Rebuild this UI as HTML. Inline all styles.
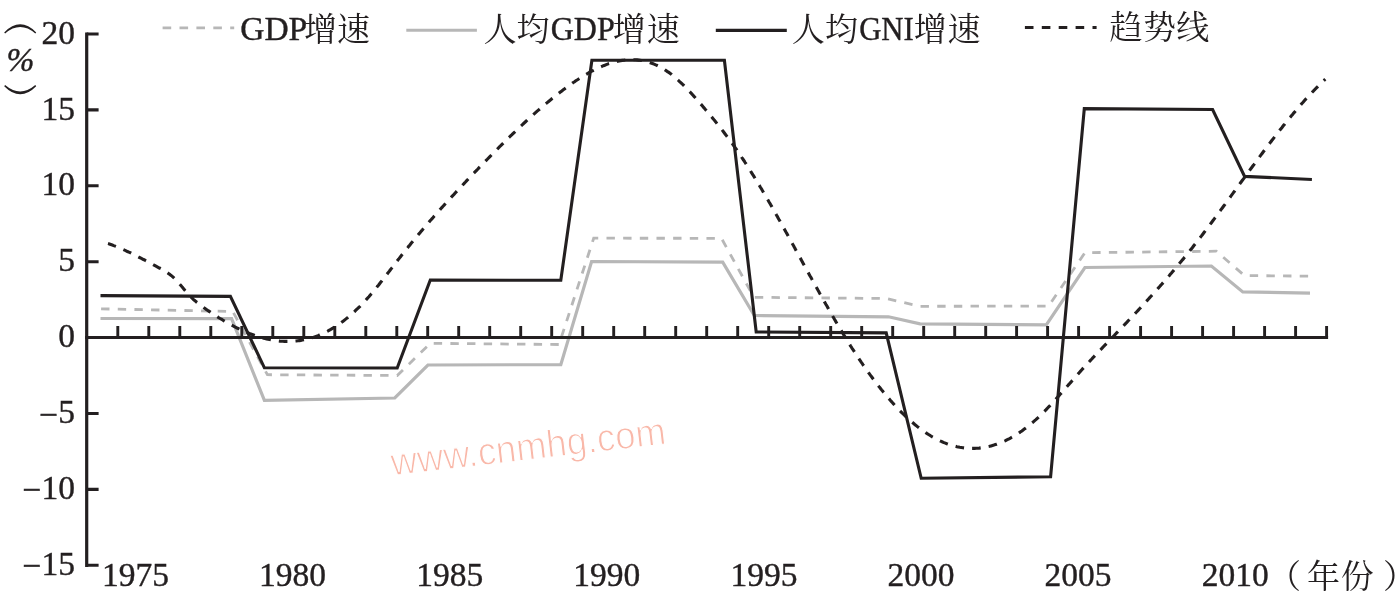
<!DOCTYPE html>
<html lang="zh-CN">
<head>
<meta charset="utf-8">
<title>GDP增速、人均GDP增速、人均GNI增速与趋势线（1975—2012年）</title>
<style>
html,body{margin:0;padding:0;background:#fff;}
body{width:1398px;height:598px;overflow:hidden;font-family:"Liberation Serif",serif;}
svg{display:block;will-change:transform;}
.t{font-family:"Liberation Serif",serif;font-size:33.5px;fill:#231f20;stroke:#231f20;stroke-width:0.4px;}
.c{font-family:"Liberation Serif","Noto Serif CJK SC",serif;font-size:33px;fill:#231f20;}
.wm{font-family:"Liberation Sans",sans-serif;font-size:38.5px;fill:#f9b8a9;stroke:#fff;stroke-width:1.1px;paint-order:fill stroke;}
</style>
</head>
<body>
<svg width="1398" height="598" viewBox="0 0 1398 598" role="img" aria-label="折线图：GDP增速、人均GDP增速、人均GNI增速、趋势线">
<rect width="1398" height="598" fill="#fff"/>
<text class="wm" transform="translate(392.3 475.6) rotate(-6.6)" textLength="276.5" lengthAdjust="spacingAndGlyphs">www.cnmhg.com</text>
<g fill="none" stroke="#b7b7b7" stroke-linejoin="miter">
<polyline stroke-width="3.2" points="100.5,318.5 231.6,318.7 264.4,400.4 394.8,398 427.9,365 560.8,364.6 591.6,261.5 722.7,262.1 754.3,315.5 888.5,316.8 920.1,323.8 1046.3,324.8 1084.9,267.5 1211.4,266 1242.8,291.9 1310,293.1"/>
<polyline stroke-width="2.8" stroke-dasharray="8.4 8.26" stroke-dashoffset="-0.6" points="100.5,308.8 232.8,311.5 267.4,374.7 397.2,375.5 430.3,343.3 559,344.5 593.7,238.2 721.5,238.3 753.9,297.3 886.2,298.5 920.1,306.3 1048.6,306.1 1084.9,252.7 1216.3,251.2 1244.4,275.5 1309,276.2"/>
</g>
<g fill="none" stroke="#231f20">
<path stroke-width="3.2" d="M86.7 32.4V566.9"/>
<path stroke-width="3.1" d="M85.1 337.5H1328.1"/>
<path stroke-width="3.1" d="M86.7 34H98.6M86.7 109.9H98.6M86.7 185.8H98.6M86.7 261.7H98.6M86.7 413.5H98.6M86.7 489.4H98.6M86.7 565.3H98.6"/>
<path stroke-width="2.9" d="M117.8 326V337.5M148.8 326V337.5M179.8 326V337.5M210.8 326V337.5M241.8 326V337.5M272.8 326V337.5M303.8 326V337.5M334.8 326V337.5M365.8 326V337.5M396.8 326V337.5M427.7 326V337.5M458.7 326V337.5M489.7 326V337.5M520.7 326V337.5M551.7 326V337.5M582.7 326V337.5M613.7 326V337.5M644.7 326V337.5M675.7 326V337.5M706.7 326V337.5M737.7 326V337.5M768.7 326V337.5M799.7 326V337.5M830.7 326V337.5M861.7 326V337.5M892.7 326V337.5M923.7 326V337.5M954.7 326V337.5M985.7 326V337.5M1016.6 326V337.5M1047.6 326V337.5M1078.6 326V337.5M1109.6 326V337.5M1140.6 326V337.5M1171.6 326V337.5M1202.6 326V337.5M1233.6 326V337.5M1264.6 326V337.5M1295.6 326V337.5M1326.6 326V337.5"/>
</g>
<g fill="none" stroke="#231f20" stroke-linejoin="miter">
<polyline stroke-width="3.1" stroke-dasharray="8.60 8.08" stroke-dashoffset="-16.52" points="108,243.6 109.4,244 110.8,244.5 112.3,245 113.7,245.6 115.1,246.1 116.5,246.6 117.8,247.2 119.2,247.8 120.6,248.4 122,249 123.4,249.6 124.7,250.2 126.1,250.8 127.4,251.5 128.8,252.1 130.2,252.7 131.5,253.4 132.8,254.1 134.2,254.7 135.5,255.4 136.9,256.1 138.2,256.8 139.5,257.5 140.9,258.1 142.2,258.8 143.5,259.5 144.9,260.2 146.2,260.9 147.5,261.6 148.8,262.3 150.2,263 151.5,263.7 152.8,264.4 154.1,265.2 155.5,265.9 156.8,266.6 158.1,267.3 159.4,268 160.8,268.7 162.1,269.4 163.4,270.1 164.7,270.9 165.9,271.7 167.2,272.5 168.4,273.4 169.6,274.3 170.8,275.2 172,276.1 173.1,277.1 174.2,278.1 175.3,279.2 176.3,280.3 177.3,281.4 178.3,282.5 179.3,283.6 180.3,284.8 181.3,285.9 182.2,287.1 183.2,288.2 184.2,289.4 185.1,290.5 186.1,291.6 187.1,292.8 188.1,293.9 189.1,295 190.1,296.1 191.1,297.2 192.2,298.2 193.3,299.3 194.4,300.3 195.6,301.2 196.7,302.2 197.9,303.1 199.1,304.1 200.2,305 201.4,305.9 202.6,306.8 203.9,307.7 205.1,308.5 206.3,309.4 207.5,310.3 208.8,311.1 210,311.9 211.3,312.8 212.5,313.6 213.8,314.4 215,315.3 216.3,316.1 217.6,316.9 218.8,317.7 220.1,318.5 221.4,319.2 222.7,320 224,320.8 225.2,321.5 226.5,322.3 227.9,323 229.2,323.8 230.5,324.5 231.8,325.2 233.1,325.9 234.4,326.6 235.8,327.3 237.1,328 238.5,328.6 239.8,329.3 241.2,329.9 242.5,330.5 243.9,331.1 245.3,331.7 246.7,332.3 248.1,332.9 249.4,333.5 250.8,334 252.2,334.5 253.7,335 255.1,335.5 256.5,336 257.9,336.5 259.4,336.9 260.8,337.4 262.2,337.8 263.7,338.2 265.1,338.5 266.6,338.9 268.1,339.2 269.5,339.5 271,339.8 272.5,340.1 274,340.3 275.4,340.5 276.9,340.7 278.4,340.9 279.9,341.1 281.4,341.2 282.9,341.3 284.4,341.4 285.9,341.4 287.4,341.4 288.9,341.4 290.4,341.4 291.9,341.3 293.4,341.2 294.9,341.1 296.4,341 297.9,340.8 299.4,340.6 300.8,340.4 302.3,340.1 303.8,339.8 305.3,339.5 306.7,339.2 308.2,338.8 309.6,338.4 311.1,338 312.5,337.6 313.9,337.1 315.3,336.6 316.7,336.1 318.1,335.6 319.5,335 320.9,334.4 322.3,333.8 323.6,333.2 325,332.5 326.3,331.8 327.7,331.1 329,330.4 330.3,329.7 331.6,328.9 332.9,328.1 334.1,327.4 335.4,326.5 336.7,325.7 337.9,324.9 339.1,324 340.4,323.2 341.6,322.3 342.8,321.4 344,320.5 345.1,319.6 346.3,318.6 347.5,317.7 348.6,316.7 349.8,315.7 350.9,314.8 352,313.8 353.2,312.8 354.3,311.8 355.4,310.7 356.4,309.7 357.5,308.7 358.6,307.6 359.7,306.6 360.7,305.5 361.8,304.4 362.8,303.3 363.8,302.2 364.9,301.1 365.9,300 366.9,298.9 367.9,297.8 368.9,296.7 369.9,295.5 370.8,294.4 371.8,293.3 372.8,292.1 373.7,291 374.7,289.8 375.6,288.7 376.6,287.5 377.5,286.3 378.5,285.2 379.4,284 380.3,282.8 381.3,281.6 382.2,280.4 383.1,279.3 384,278.1 384.9,276.9 385.9,275.7 386.8,274.5 387.7,273.3 388.6,272.1 389.5,271 390.4,269.8 391.3,268.6 392.3,267.4 393.2,266.2 394.1,265 395,263.8 395.9,262.6 396.8,261.4 397.7,260.2 398.7,259.1 399.6,257.9 400.5,256.7 401.4,255.5 402.4,254.3 403.3,253.2 404.2,252 405.2,250.8 406.1,249.6 407,248.5 408,247.3 408.9,246.1 409.9,245 410.8,243.8 411.8,242.6 412.7,241.5 413.7,240.3 414.6,239.2 415.6,238 416.5,236.9 417.5,235.7 418.4,234.5 419.4,233.4 420.4,232.2 421.3,231.1 422.3,230 423.3,228.8 424.3,227.7 425.2,226.5 426.2,225.4 427.2,224.3 428.2,223.1 429.1,222 430.1,220.8 431.1,219.7 432.1,218.6 433.1,217.5 434.1,216.3 435.1,215.2 436.1,214.1 437.1,213 438,211.8 439,210.7 440,209.6 441,208.5 442,207.4 443,206.2 444.1,205.1 445.1,204 446.1,202.9 447.1,201.8 448.1,200.7 449.1,199.6 450.1,198.5 451.1,197.4 452.1,196.3 453.2,195.2 454.2,194.1 455.2,193 456.2,191.9 457.2,190.8 458.3,189.7 459.3,188.6 460.3,187.5 461.3,186.4 462.4,185.3 463.4,184.2 464.4,183.1 465.5,182 466.5,180.9 467.5,179.8 468.5,178.8 469.6,177.7 470.6,176.6 471.6,175.5 472.7,174.4 473.7,173.3 474.8,172.2 475.8,171.2 476.8,170.1 477.9,169 478.9,167.9 480,166.8 481,165.8 482,164.7 483.1,163.6 484.1,162.5 485.2,161.4 486.2,160.4 487.3,159.3 488.3,158.2 489.4,157.1 490.4,156.1 491.5,155 492.5,153.9 493.6,152.9 494.6,151.8 495.7,150.7 496.7,149.7 497.8,148.6 498.8,147.5 499.9,146.5 501,145.4 502,144.4 503.1,143.3 504.2,142.2 505.2,141.2 506.3,140.1 507.4,139.1 508.4,138 509.5,137 510.6,135.9 511.7,134.9 512.7,133.9 513.8,132.8 514.9,131.8 516,130.7 517.1,129.7 518.1,128.7 519.2,127.6 520.3,126.6 521.4,125.6 522.5,124.5 523.6,123.5 524.7,122.5 525.8,121.5 526.9,120.5 528,119.4 529.1,118.4 530.2,117.4 531.3,116.4 532.5,115.4 533.6,114.4 534.7,113.4 535.8,112.4 536.9,111.4 538.1,110.4 539.2,109.5 540.3,108.5 541.5,107.5 542.6,106.5 543.7,105.5 544.9,104.6 546,103.6 547.2,102.6 548.3,101.7 549.5,100.7 550.7,99.8 551.8,98.8 553,97.9 554.1,96.9 555.3,96 556.5,95.1 557.7,94.1 558.9,93.2 560,92.3 561.2,91.4 562.4,90.5 563.6,89.6 564.8,88.7 566,87.8 567.2,86.9 568.4,86 569.7,85.1 570.9,84.3 572.1,83.4 573.3,82.5 574.6,81.7 575.8,80.8 577.1,80 578.3,79.2 579.6,78.4 580.8,77.6 582.1,76.8 583.4,76 584.7,75.2 586,74.4 587.3,73.7 588.6,72.9 589.9,72.2 591.2,71.5 592.5,70.8 593.8,70.1 595.2,69.4 596.5,68.8 597.9,68.1 599.2,67.5 600.6,66.9 602,66.3 603.4,65.7 604.8,65.2 606.2,64.6 607.6,64.1 609,63.6 610.4,63.2 611.9,62.7 613.3,62.3 614.8,61.9 616.2,61.6 617.7,61.2 619.2,60.9 620.6,60.7 622.1,60.4 623.6,60.2 625.1,60 626.6,59.9 628.1,59.8 629.6,59.7 631.1,59.7 632.6,59.7 634.1,59.7 635.6,59.8 637.1,59.9 638.6,60.1 640,60.3 641.5,60.5 643,60.8 644.5,61.1 645.9,61.4 647.4,61.8 648.8,62.2 650.2,62.7 651.7,63.2 653.1,63.7 654.5,64.3 655.8,64.9 657.2,65.5 658.5,66.2 659.9,66.9 661.2,67.6 662.5,68.3 663.8,69.1 665,69.9 666.3,70.7 667.5,71.6 668.8,72.4 670,73.3 671.2,74.2 672.3,75.2 673.5,76.1 674.6,77.1 675.8,78 676.9,79 678,80 679.1,81.1 680.2,82.1 681.3,83.1 682.4,84.2 683.5,85.2 684.5,86.3 685.6,87.3 686.6,88.4 687.7,89.5 688.7,90.6 689.7,91.7 690.8,92.8 691.8,93.9 692.8,95 693.8,96.1 694.8,97.2 695.8,98.3 696.8,99.5 697.8,100.6 698.8,101.7 699.7,102.8 700.7,104 701.7,105.1 702.7,106.3 703.6,107.4 704.6,108.5 705.6,109.7 706.6,110.8 707.5,112 708.5,113.1 709.4,114.3 710.4,115.4 711.4,116.6 712.3,117.7 713.3,118.9 714.2,120.1 715.2,121.2 716.1,122.4 717,123.6 718,124.7 718.9,125.9 719.8,127.1 720.8,128.3 721.7,129.5 722.6,130.6 723.5,131.8 724.4,133 725.3,134.2 726.2,135.4 727.1,136.6 728,137.8 728.9,139 729.8,140.2 730.7,141.4 731.6,142.7 732.5,143.9 733.3,145.1 734.2,146.3 735.1,147.5 735.9,148.8 736.8,150 737.6,151.2 738.5,152.5 739.3,153.7 740.2,155 741,156.2 741.8,157.5 742.6,158.7 743.5,160 744.3,161.2 745.1,162.5 745.9,163.7 746.7,165 747.5,166.3 748.3,167.5 749.2,168.8 750,170.1 750.7,171.3 751.5,172.6 752.3,173.9 753.1,175.2 753.9,176.4 754.7,177.7 755.5,179 756.3,180.3 757,181.6 757.8,182.8 758.6,184.1 759.4,185.4 760.1,186.7 760.9,188 761.7,189.3 762.4,190.6 763.2,191.9 763.9,193.2 764.7,194.4 765.5,195.7 766.2,197 767,198.3 767.7,199.6 768.5,200.9 769.2,202.2 770,203.5 770.7,204.8 771.5,206.1 772.2,207.4 772.9,208.7 773.7,210 774.4,211.4 775.2,212.7 775.9,214 776.6,215.3 777.4,216.6 778.1,217.9 778.8,219.2 779.6,220.5 780.3,221.8 781,223.1 781.8,224.4 782.5,225.7 783.2,227.1 783.9,228.4 784.7,229.7 785.4,231 786.1,232.3 786.9,233.6 787.6,234.9 788.3,236.2 789,237.6 789.8,238.9 790.5,240.2 791.2,241.5 791.9,242.8 792.6,244.1 793.4,245.4 794.1,246.8 794.8,248.1 795.5,249.4 796.2,250.7 797,252 797.7,253.3 798.4,254.7 799.1,256 799.8,257.3 800.6,258.6 801.3,259.9 802,261.2 802.7,262.5 803.4,263.9 804.2,265.2 804.9,266.5 805.6,267.8 806.3,269.1 807.1,270.4 807.8,271.8 808.5,273.1 809.2,274.4 809.9,275.7 810.7,277 811.4,278.3 812.1,279.6 812.8,281 813.6,282.3 814.3,283.6 815,284.9 815.7,286.2 816.5,287.5 817.2,288.8 817.9,290.1 818.7,291.4 819.4,292.8 820.1,294.1 820.9,295.4 821.6,296.7 822.3,298 823.1,299.3 823.8,300.6 824.5,301.9 825.3,303.2 826,304.5 826.8,305.8 827.5,307.1 828.2,308.4 829,309.7 829.7,311 830.5,312.3 831.2,313.6 832,314.9 832.7,316.2 833.5,317.5 834.2,318.8 835,320.1 835.7,321.4 836.5,322.7 837.3,324 838,325.3 838.8,326.6 839.6,327.9 840.3,329.2 841.1,330.4 841.9,331.7 842.7,333 843.4,334.3 844.2,335.6 845,336.9 845.8,338.1 846.6,339.4 847.4,340.7 848.1,342 848.9,343.2 849.7,344.5 850.5,345.8 851.3,347 852.1,348.3 853,349.6 853.8,350.8 854.6,352.1 855.4,353.4 856.2,354.6 857,355.9 857.9,357.1 858.7,358.4 859.5,359.6 860.4,360.9 861.2,362.1 862.1,363.3 862.9,364.6 863.8,365.8 864.6,367 865.5,368.3 866.3,369.5 867.2,370.7 868.1,371.9 868.9,373.2 869.8,374.4 870.7,375.6 871.6,376.8 872.5,378 873.4,379.2 874.3,380.4 875.2,381.6 876.1,382.8 877,384 877.9,385.2 878.8,386.4 879.8,387.6 880.7,388.7 881.6,389.9 882.6,391.1 883.5,392.2 884.5,393.4 885.4,394.5 886.4,395.7 887.3,396.8 888.3,398 889.3,399.1 890.3,400.3 891.3,401.4 892.3,402.5 893.3,403.6 894.3,404.7 895.3,405.8 896.3,406.9 897.3,408 898.4,409.1 899.4,410.2 900.5,411.3 901.5,412.3 902.6,413.4 903.7,414.4 904.7,415.5 905.8,416.5 906.9,417.5 908,418.6 909.1,419.6 910.2,420.6 911.4,421.6 912.5,422.5 913.7,423.5 914.8,424.5 916,425.4 917.1,426.4 918.3,427.3 919.5,428.2 920.7,429.1 921.9,430 923.1,430.9 924.4,431.7 925.6,432.6 926.8,433.4 928.1,434.2 929.4,435 930.6,435.8 931.9,436.6 933.2,437.3 934.5,438.1 935.9,438.8 937.2,439.5 938.5,440.1 939.9,440.8 941.3,441.4 942.6,442 944,442.6 945.4,443.1 946.8,443.7 948.2,444.2 949.6,444.7 951.1,445.1 952.5,445.5 954,445.9 955.4,446.3 956.9,446.7 958.3,447 959.8,447.3 961.3,447.5 962.8,447.7 964.3,447.9 965.7,448.1 967.2,448.2 968.7,448.3 970.2,448.4 971.7,448.4 973.2,448.4 974.7,448.4 976.2,448.3 977.7,448.2 979.2,448.1 980.7,447.9 982.2,447.7 983.7,447.5 985.2,447.2 986.6,447 988.1,446.6 989.6,446.3 991,445.9 992.5,445.5 993.9,445.1 995.3,444.6 996.8,444.2 998.2,443.7 999.6,443.1 1001,442.6 1002.3,442 1003.7,441.4 1005.1,440.8 1006.4,440.1 1007.8,439.4 1009.1,438.8 1010.4,438.1 1011.7,437.3 1013,436.6 1014.3,435.8 1015.6,435 1016.9,434.2 1018.2,433.4 1019.4,432.6 1020.6,431.8 1021.9,430.9 1023.1,430 1024.3,429.1 1025.5,428.2 1026.7,427.3 1027.9,426.4 1029,425.5 1030.2,424.5 1031.3,423.5 1032.5,422.6 1033.6,421.6 1034.7,420.6 1035.9,419.6 1037,418.6 1038.1,417.6 1039.2,416.5 1040.2,415.5 1041.3,414.4 1042.4,413.4 1043.4,412.3 1044.5,411.3 1045.6,410.2 1046.6,409.1 1047.6,408 1048.7,406.9 1049.7,405.9 1050.7,404.8 1051.8,403.7 1052.8,402.6 1053.8,401.5 1054.8,400.3 1055.8,399.2 1056.8,398.1 1057.8,397 1058.8,395.9 1059.8,394.8 1060.8,393.6 1061.8,392.5 1062.8,391.4 1063.8,390.3 1064.8,389.1 1065.8,388 1066.7,386.9 1067.7,385.8 1068.7,384.6 1069.7,383.5 1070.7,382.4 1071.7,381.2 1072.7,380.1 1073.7,379 1074.7,377.9 1075.6,376.7 1076.6,375.6 1077.6,374.5 1078.6,373.4 1079.6,372.2 1080.6,371.1 1081.6,370 1082.6,368.9 1083.6,367.8 1084.6,366.7 1085.7,365.6 1086.7,364.5 1087.7,363.4 1088.7,362.3 1089.7,361.2 1090.7,360.1 1091.8,359 1092.8,357.9 1093.8,356.8 1094.9,355.7 1095.9,354.6 1096.9,353.5 1097.9,352.4 1099,351.3 1100,350.2 1101.1,349.2 1102.1,348.1 1103.1,347 1104.2,345.9 1105.2,344.8 1106.2,343.8 1107.3,342.7 1108.3,341.6 1109.4,340.5 1110.4,339.4 1111.4,338.3 1112.5,337.3 1113.5,336.2 1114.6,335.1 1115.6,334 1116.6,332.9 1117.7,331.9 1118.7,330.8 1119.8,329.7 1120.8,328.6 1121.8,327.5 1122.9,326.4 1123.9,325.4 1124.9,324.3 1126,323.2 1127,322.1 1128,321 1129.1,319.9 1130.1,318.8 1131.1,317.7 1132.2,316.6 1133.2,315.6 1134.2,314.5 1135.2,313.4 1136.3,312.3 1137.3,311.2 1138.3,310.1 1139.3,309 1140.4,307.9 1141.4,306.8 1142.4,305.7 1143.4,304.6 1144.4,303.5 1145.4,302.4 1146.4,301.3 1147.5,300.1 1148.5,299 1149.5,297.9 1150.5,296.8 1151.5,295.7 1152.5,294.6 1153.5,293.5 1154.5,292.4 1155.5,291.2 1156.5,290.1 1157.5,289 1158.5,287.9 1159.5,286.8 1160.5,285.6 1161.5,284.5 1162.5,283.4 1163.5,282.3 1164.4,281.1 1165.4,280 1166.4,278.9 1167.4,277.7 1168.4,276.6 1169.4,275.5 1170.3,274.3 1171.3,273.2 1172.3,272 1173.2,270.9 1174.2,269.7 1175.2,268.6 1176.1,267.5 1177.1,266.3 1178.1,265.2 1179,264 1180,262.8 1180.9,261.7 1181.9,260.5 1182.9,259.4 1183.8,258.2 1184.8,257.1 1185.7,255.9 1186.6,254.7 1187.6,253.6 1188.5,252.4 1189.5,251.2 1190.4,250 1191.3,248.9 1192.3,247.7 1193.2,246.5 1194.1,245.3 1195,244.2 1196,243 1196.9,241.8 1197.8,240.6 1198.7,239.4 1199.6,238.2 1200.6,237 1201.5,235.9 1202.4,234.7 1203.3,233.5 1204.2,232.3 1205.1,231.1 1206,229.9 1206.9,228.7 1207.8,227.5 1208.7,226.3 1209.6,225.1 1210.5,223.9 1211.4,222.7 1212.3,221.5 1213.2,220.3 1214.1,219.1 1215,217.9 1215.9,216.7 1216.8,215.5 1217.7,214.3 1218.6,213 1219.4,211.8 1220.3,210.6 1221.2,209.4 1222.1,208.2 1223,207 1223.9,205.8 1224.8,204.6 1225.6,203.4 1226.5,202.2 1227.4,200.9 1228.3,199.7 1229.2,198.5 1230.1,197.3 1230.9,196.1 1231.8,194.9 1232.7,193.7 1233.6,192.4 1234.5,191.2 1235.4,190 1236.2,188.8 1237.1,187.6 1238,186.4 1238.9,185.2 1239.8,183.9 1240.6,182.7 1241.5,181.5 1242.4,180.3 1243.3,179.1 1244.2,177.9 1245,176.7 1245.9,175.5 1246.8,174.2 1247.7,173 1248.6,171.8 1249.5,170.6 1250.3,169.4 1251.2,168.2 1252.1,167 1253,165.8 1253.9,164.6 1254.8,163.3 1255.7,162.1 1256.6,160.9 1257.5,159.7 1258.3,158.5 1259.2,157.3 1260.1,156.1 1261,154.9 1261.9,153.7 1262.8,152.5 1263.7,151.3 1264.6,150.1 1265.5,148.9 1266.4,147.7 1267.3,146.5 1268.2,145.3 1269.1,144.1 1270,142.9 1270.9,141.7 1271.8,140.5 1272.8,139.3 1273.7,138.1 1274.6,136.9 1275.5,135.8 1276.4,134.6 1277.3,133.4 1278.3,132.2 1279.2,131 1280.1,129.8 1281,128.7 1282,127.5 1282.9,126.3 1283.8,125.1 1284.8,124 1285.7,122.8 1286.7,121.6 1287.6,120.5 1288.6,119.3 1289.5,118.1 1290.5,117 1291.4,115.8 1292.4,114.7 1293.3,113.5 1294.3,112.4 1295.3,111.2 1296.2,110.1 1297.2,108.9 1298.2,107.8 1299.2,106.7 1300.1,105.5 1301.1,104.4 1302.1,103.3 1303.1,102.2 1304.1,101 1305.1,99.9 1306.1,98.8 1307.1,97.7 1308.1,96.6 1309.2,95.5 1310.2,94.4 1311.2,93.3 1312.2,92.2 1313.3,91.1 1314.3,90 1315.4,89 1316.4,87.9 1317.5,86.8 1318.5,85.8 1319.6,84.7 1320.7,83.7 1321.7,82.6 1322.8,81.6 1323.9,80.5 1325,79.5 1325.3,79.2"/>
<polyline stroke-width="3.1" points="100.5,295.6 230.4,296.4 264.4,367.8 397.2,368 430.3,280 560.8,280.3 591.9,60.2 724.4,60.2 756.2,332 886.2,332.9 921.2,478.3 1050.6,476.7 1084.3,108.6 1212.6,109.5 1244.6,176.4 1311.9,179.5"/>
</g>
<g class="t" text-anchor="end">
<text x="75" y="43.6">20</text>
<text x="75" y="119.5">15</text>
<text x="75" y="195.4">10</text>
<text x="75" y="271.3">5</text>
<text x="75" y="347.2">0</text>
<text x="75" y="423.1"><tspan dy="2.4">−</tspan><tspan dy="-2.4">5</tspan></text>
<text x="75" y="499"><tspan dy="2.4">−</tspan><tspan dy="-2.4">10</tspan></text>
<text x="75" y="574.9"><tspan dy="2.4">−</tspan><tspan dy="-2.4">15</tspan></text>
</g>
<g fill="#231f20">
<path d="M4.2 32.4Q20.2 16.2 36.2 32.4L35.3 33.5Q20.2 20.6 5.1 33.5Z"/>
<path d="M4.2 86.2Q20.2 102.4 36.2 86.2L35.3 85.1Q20.2 98 5.1 85.1Z"/>
</g>
<text class="t" x="6.5" y="70.8" font-style="italic">%</text>
<g class="t">
<text x="102" y="586.2">1975</text>
<text x="259.1" y="586.2">1980</text>
<text x="416.2" y="586.2">1985</text>
<text x="573.3" y="586.2">1990</text>
<text x="730.4" y="586.2">1995</text>
<text x="887.5" y="586.2">2000</text>
<text x="1044.6" y="586.2">2005</text>
<text x="1201.7" y="586.2">2010</text>
</g>
<g class="c">
<text x="1268" y="587.6">（</text>
<text x="1307.1" y="588.1" textLength="66.6" lengthAdjust="spacing">年份</text>
<text x="1383" y="587.6">）</text>
</g>
<g fill="none">
<path stroke="#b7b7b7" stroke-width="2.8" stroke-dasharray="8.6 8.3" d="M162.6 27.8H234.2"/>
<path stroke="#b7b7b7" stroke-width="3.1" d="M406.3 30.3H476.9"/>
<path stroke="#231f20" stroke-width="3.2" d="M715.8 30.4H786.8"/>
<path stroke="#231f20" stroke-width="3.1" stroke-dasharray="8.6 8.3" d="M1024.9 27.5H1096.6"/>
</g>
<g class="t">
<text x="240.2" y="40.4">GDP</text>
<text x="550.7" y="40.4" textLength="64" lengthAdjust="spacingAndGlyphs">GDP</text>
<text x="859.2" y="40.4" textLength="54.6" lengthAdjust="spacingAndGlyphs">GNI</text>
</g>
<g class="c">
<text x="303.9" y="41" textLength="66" lengthAdjust="spacing">增速</text>
<text x="483.4" y="41" textLength="66" lengthAdjust="spacing">人均</text>
<text x="612.8" y="41" textLength="67" lengthAdjust="spacing">增速</text>
<text x="791.8" y="41" textLength="66.3" lengthAdjust="spacing">人均</text>
<text x="913.8" y="41" textLength="66.8" lengthAdjust="spacing">增速</text>
<text x="1109.6" y="38.6" textLength="99.6" lengthAdjust="spacing">趋势线</text>
</g>
</svg>
</body>
</html>
